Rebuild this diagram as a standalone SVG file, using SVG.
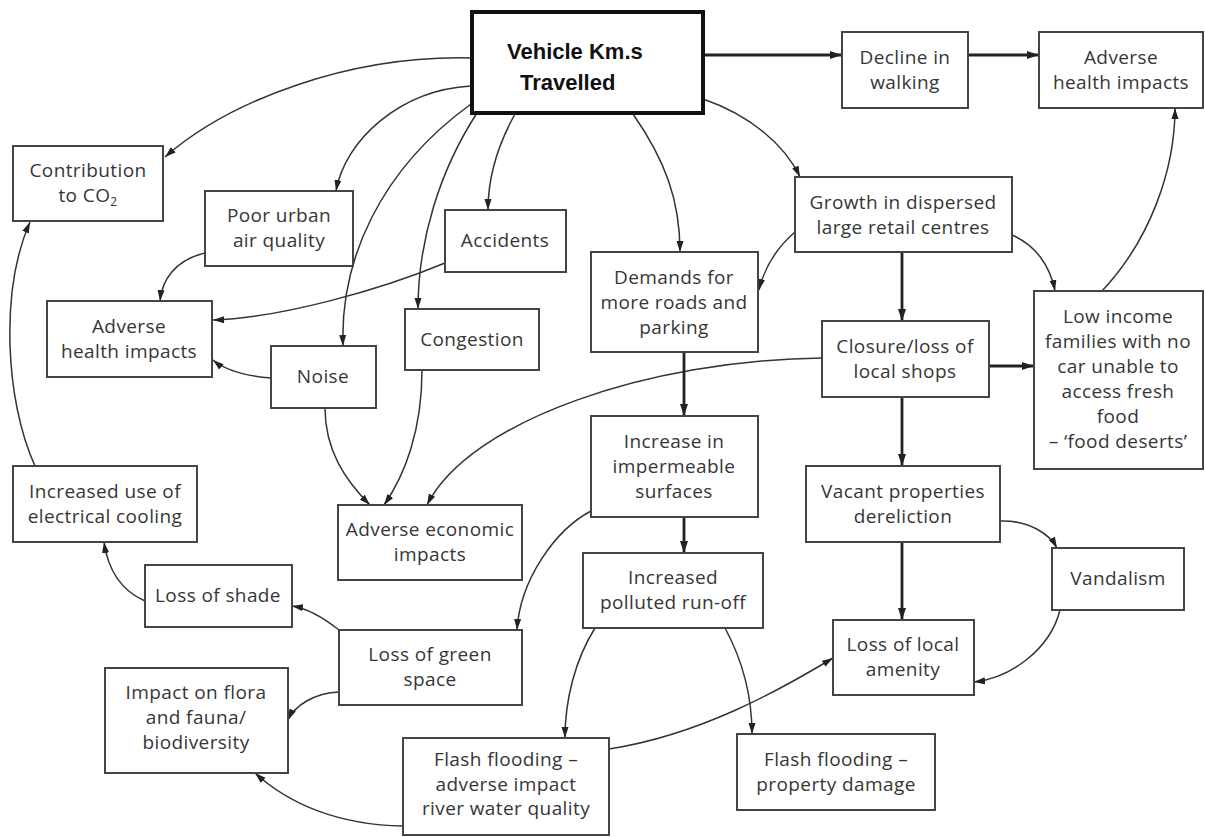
<svg xmlns="http://www.w3.org/2000/svg" width="1205" height="837" viewBox="0 0 1205 837">
<style>
.box{fill:#fff;stroke:#444;stroke-width:2}
.main{fill:#fff;stroke:#111;stroke-width:4}
.t{font-family:"Open Sans","Noto Sans",sans-serif;font-size:19px;letter-spacing:0.4px;fill:#363636;text-anchor:middle}
.mt{font-family:"Liberation Sans",Arial,sans-serif;font-size:22px;font-weight:bold;fill:#111}
.c{fill:none;stroke:#333;stroke-width:1.5;marker-end:url(#ah)}
.k{fill:none;stroke:#222;stroke-width:2.8;marker-end:url(#ahk)}
</style>
<defs>
<marker id="ah" markerUnits="userSpaceOnUse" markerWidth="12" markerHeight="8" refX="11" refY="4" orient="auto"><path d="M0,0.5 L11,4 L0,7.5 z" fill="#222"/></marker>
<marker id="ahk" markerUnits="userSpaceOnUse" markerWidth="13" markerHeight="9" refX="12" refY="4.5" orient="auto"><path d="M0,0.5 L12,4.5 L0,8.5 z" fill="#222"/></marker>
</defs>
<rect width="1205" height="837" fill="#fff"/>
<g id="connectors">
<path class="k" d="M703,55 L842,55"/>
<path class="k" d="M968,55 L1039,55"/>
<path class="c" d="M471,58 C350,55 230,100 165,157"/>
<path class="c" d="M471,86 C400,90 345,140 336,191"/>
<path class="c" d="M471,104 C380,170 340,260 343,346"/>
<path class="c" d="M477,113 C440,170 418,240 418,309"/>
<path class="c" d="M515,114 C495,150 488,180 488,210"/>
<path class="c" d="M633,114 C665,160 680,200 680,252"/>
<path class="c" d="M703,99 C750,115 785,145 800,177"/>
<path class="c" d="M445,263 C380,290 280,318 213,320"/>
<path class="c" d="M205,253 C175,260 162,280 160,301"/>
<path class="c" d="M271,378 C245,376 225,370 213,360"/>
<path class="c" d="M325,408 C325,450 345,480 370,505"/>
<path class="c" d="M422,370 C422,430 405,475 384,505"/>
<path class="c" d="M822,358 C650,360 470,420 427,505"/>
<path class="c" d="M795,232 C780,245 765,265 759,290"/>
<path class="k" d="M902,252 L902,321"/>
<path class="c" d="M1012,235 C1035,245 1050,265 1055,291"/>
<path class="c" d="M1102,291 C1150,240 1175,170 1175,108"/>
<path class="k" d="M989,366 L1034,366"/>
<path class="k" d="M902,397 L902,466"/>
<path class="c" d="M1000,521 C1030,520 1050,535 1057,548"/>
<path class="k" d="M902,542 L902,620"/>
<path class="c" d="M1060,610 C1050,650 1010,678 974,682"/>
<path class="c" d="M609,749 C700,735 780,690 833,658"/>
<path class="k" d="M684,352 L684,416"/>
<path class="k" d="M684,517 L684,553"/>
<path class="c" d="M591,511 C555,530 520,580 517,630"/>
<path class="c" d="M595,628 C575,660 565,700 565,738"/>
<path class="c" d="M725,628 C745,665 752,700 752,734"/>
<path class="c" d="M339,630 C320,615 305,608 292,606"/>
<path class="c" d="M339,692 C315,693 295,705 288,720"/>
<path class="c" d="M403,826 C340,825 290,805 255,773"/>
<path class="c" d="M145,601 C120,590 108,570 104,542"/>
<path class="c" d="M35,466 C5,400 0,290 30,222"/>
</g>
<g id="vkt"><rect class="main" x="472" y="12" width="231" height="101"/><text class="mt" x="507" y="59">Vehicle Km.s</text><text class="mt" x="520" y="90">Travelled</text></g>
<g id="decline"><rect class="box" x="842" y="32" width="126" height="76"/><text class="t" x="905" y="64">Decline in</text><text class="t" x="905" y="89">walking</text></g>
<g id="health-top"><rect class="box" x="1039" y="32" width="164" height="76"/><text class="t" x="1121" y="64">Adverse</text><text class="t" x="1121" y="89">health impacts</text></g>
<g id="co2"><rect class="box" x="13" y="146" width="150" height="75"/><text class="t" x="88" y="177">Contribution</text><text class="t" x="88" y="202">to CO<tspan font-size="12" dy="4">2</tspan></text></g>
<g id="air"><rect class="box" x="205" y="191" width="148" height="75"/><text class="t" x="279" y="222">Poor urban</text><text class="t" x="279" y="247">air quality</text></g>
<g id="accidents"><rect class="box" x="445" y="210" width="121" height="62"/><text class="t" x="505" y="247">Accidents</text></g>
<g id="growth"><rect class="box" x="795" y="177" width="217" height="75"/><text class="t" x="903" y="209">Growth in dispersed</text><text class="t" x="903" y="234">large retail centres</text></g>
<g id="demands"><rect class="box" x="591" y="252" width="167" height="100"/><text class="t" x="674" y="284">Demands for</text><text class="t" x="674" y="309">more roads and</text><text class="t" x="674" y="334">parking</text></g>
<g id="health-left"><rect class="box" x="47" y="301" width="165" height="76"/><text class="t" x="129" y="333">Adverse</text><text class="t" x="129" y="358">health impacts</text></g>
<g id="noise"><rect class="box" x="271" y="346" width="105" height="62"/><text class="t" x="323" y="383">Noise</text></g>
<g id="congestion"><rect class="box" x="405" y="309" width="134" height="61"/><text class="t" x="472" y="346">Congestion</text></g>
<g id="closure"><rect class="box" x="822" y="321" width="167" height="76"/><text class="t" x="905" y="353">Closure/loss of</text><text class="t" x="905" y="378">local shops</text></g>
<g id="lowincome"><rect class="box" x="1034" y="291" width="169" height="178"/><text class="t" x="1118" y="323">Low income</text><text class="t" x="1118" y="348">families with no</text><text class="t" x="1118" y="373">car unable to</text><text class="t" x="1118" y="398">access fresh</text><text class="t" x="1118" y="423">food</text><text class="t" x="1118" y="448">– ‘food deserts’</text></g>
<g id="impermeable"><rect class="box" x="591" y="416" width="167" height="101"/><text class="t" x="674" y="448">Increase in</text><text class="t" x="674" y="473">impermeable</text><text class="t" x="674" y="498">surfaces</text></g>
<g id="cooling"><rect class="box" x="13" y="466" width="184" height="76"/><text class="t" x="105" y="498">Increased use of</text><text class="t" x="105" y="523">electrical cooling</text></g>
<g id="economic"><rect class="box" x="338" y="505" width="184" height="75"/><text class="t" x="430" y="536">Adverse economic</text><text class="t" x="430" y="561">impacts</text></g>
<g id="vacant"><rect class="box" x="806" y="466" width="194" height="76"/><text class="t" x="903" y="498">Vacant properties</text><text class="t" x="903" y="523">dereliction</text></g>
<g id="vandalism"><rect class="box" x="1052" y="548" width="132" height="62"/><text class="t" x="1118" y="585">Vandalism</text></g>
<g id="runoff"><rect class="box" x="583" y="553" width="180" height="75"/><text class="t" x="673" y="584">Increased</text><text class="t" x="673" y="609">polluted run-off</text></g>
<g id="shade"><rect class="box" x="145" y="565" width="147" height="62"/><text class="t" x="218" y="602">Loss of shade</text></g>
<g id="green"><rect class="box" x="339" y="630" width="183" height="75"/><text class="t" x="430" y="661">Loss of green</text><text class="t" x="430" y="686">space</text></g>
<g id="amenity"><rect class="box" x="833" y="620" width="141" height="75"/><text class="t" x="903" y="651">Loss of local</text><text class="t" x="903" y="676">amenity</text></g>
<g id="flora"><rect class="box" x="105" y="668" width="183" height="105"/><text class="t" x="196" y="699">Impact on flora</text><text class="t" x="196" y="724">and fauna/</text><text class="t" x="196" y="749">biodiversity</text></g>
<g id="flash-river"><rect class="box" x="403" y="738" width="206" height="97"/><text class="t" x="506" y="766">Flash flooding –</text><text class="t" x="506" y="791">adverse impact</text><text class="t" x="506" y="815">river water quality</text></g>
<g id="flash-property"><rect class="box" x="737" y="734" width="198" height="76"/><text class="t" x="836" y="766">Flash flooding –</text><text class="t" x="836" y="791">property damage</text></g>
</svg>
